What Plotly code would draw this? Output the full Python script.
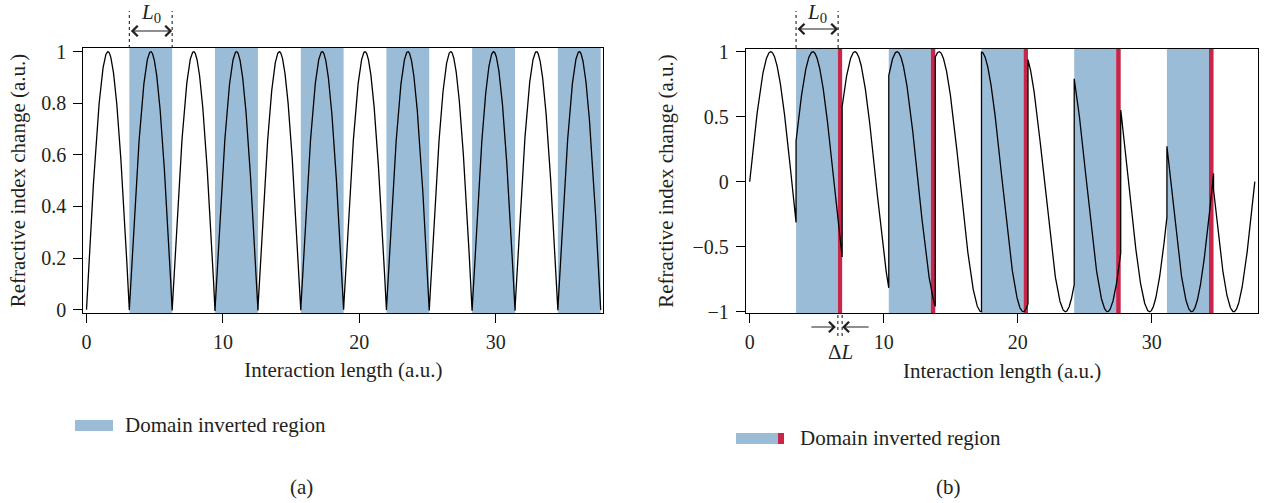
import numpy as np
import plotly.graph_objects as go

# ---- data -------------------------------------------------------------
L0 = 3.14          # coherence length
DELTA_L = 0.33     # period error of the poled grating in panel (b)
X_END = 37.70      # total interaction length

# panel (a): ideal quasi-phase-matching, inverted domains
inv_start_a = [3.14, 9.42, 15.71, 21.99, 28.27, 34.56]
inv_end_a = [6.28, 12.57, 18.85, 25.13, 31.42, 37.70]

# panel (b): inverted domains of length L0 + ΔL (blue part L0, red part ΔL)
inv_start_b = [3.46, 10.38, 17.30, 24.22, 31.14]
red_start_b = [6.58, 13.52, 20.44, 27.35, 34.28]
inv_end_b = [6.90, 13.85, 20.77, 27.69, 34.62]

x_ticks = [0, 10, 20, 30]
y_ticks_a = [0, 0.2, 0.4, 0.6, 0.8, 1]
y_ticks_b = [-1, -0.5, 0, 0.5, 1]
y_ticktext_b = ["\u22121", "\u22120.5", "0", "0.5", "1"]

BLUE = "#9bbcd7"
RED = "#c8254b"
INK = "#231f20"
FONT = "Liberation Serif"
TXT = 21   # titles, legend, annotations
TICK = 20  # tick labels


def domain_curve(starts, ends, n=4000):
    """Refractive index change: sin of the phase, sign flipped in inverted domains."""
    edges = sorted(set([0.0] + list(starts) + list(ends) + [X_END]))
    xs, ys = [], []
    for a, b in zip(edges[:-1], edges[1:]):
        mid = 0.5 * (a + b)
        sign = -1.0 if any(s <= mid <= e for s, e in zip(starts, ends)) else 1.0
        seg = np.linspace(a, b, max(4, int(n * (b - a) / X_END)))
        xs.extend(seg)
        ys.extend(sign * np.sin(seg))
    return np.array(xs), np.array(ys)


xa, ya = domain_curve(inv_start_a, inv_end_a)
xb, yb = domain_curve(inv_start_b, inv_end_b)

fig = go.Figure()
fig.add_trace(go.Scatter(x=xa, y=ya, mode="lines", line=dict(color="black", width=1.3),
                         xaxis="x", yaxis="y", showlegend=False, hoverinfo="skip"))
fig.add_trace(go.Scatter(x=xb, y=yb, mode="lines", line=dict(color="black", width=1.3),
                         xaxis="x2", yaxis="y2", showlegend=False, hoverinfo="skip"))

shapes = []
# inverted-domain bands
for s, e in zip(inv_start_a, inv_end_a):
    shapes.append(dict(type="rect", xref="x", yref="y domain", x0=s, x1=e, y0=0, y1=1,
                       fillcolor=BLUE, line=dict(width=0), layer="below"))
for s, r, e in zip(inv_start_b, red_start_b, inv_end_b):
    shapes.append(dict(type="rect", xref="x2", yref="y2 domain", x0=s, x1=r, y0=0, y1=1,
                       fillcolor=BLUE, line=dict(width=0), layer="below"))
    shapes.append(dict(type="rect", xref="x2", yref="y2 domain", x0=r, x1=e, y0=0, y1=1,
                       fillcolor=RED, line=dict(width=0), layer="below"))

H = 503.0
W = 1266.0

# L0 markers above both panels
dot = dict(color=INK, width=1.1, dash="dot")
for xr, x0 in (("x", inv_start_a[0]), ("x2", inv_start_b[0])):
    for xv in (x0, x0 + L0):
        shapes.append(dict(type="line", xref=xr, yref="paper", x0=xv, x1=xv,
                           y0=(H - 48) / H, y1=(H - 11) / H, line=dot))

# ΔL markers under panel (b)
for xv in (red_start_b[0], inv_end_b[0]):
    shapes.append(dict(type="line", xref="x2", yref="paper", x0=xv, x1=xv,
                       y0=(H - 336) / H, y1=(H - 315) / H, line=dot))

# legend swatches
shapes.append(dict(type="rect", xref="paper", yref="paper", x0=75 / W, x1=113 / W,
                   y0=(H - 431) / H, y1=(H - 420) / H, fillcolor=BLUE, line=dict(width=0)))
shapes.append(dict(type="rect", xref="paper", yref="paper", x0=736 / W, x1=778 / W,
                   y0=(H - 444) / H, y1=(H - 433) / H, fillcolor=BLUE, line=dict(width=0)))
shapes.append(dict(type="rect", xref="paper", yref="paper", x0=778 / W, x1=784 / W,
                   y0=(H - 444) / H, y1=(H - 433) / H, fillcolor=RED, line=dict(width=0)))

annotations = []
arrow = dict(showarrow=True, arrowhead=4, arrowsize=1.7, arrowwidth=1.2, arrowcolor=INK, text="")
for xr, x0, ypix in (("x", inv_start_a[0], 31), ("x2", inv_start_b[0], 29)):
    annotations.append(dict(xref=xr, yref="paper", x=x0 + L0, y=(H - ypix) / H, axref=xr,
                            ayref="pixel", ax=x0, ay=0, arrowside="end+start", **arrow))
    annotations.append(dict(xref=xr, yref="paper", x=x0 + L0 / 2, y=(H - 13) / H,
                            text="<i>L</i><sub>0</sub>", showarrow=False,
                            font=dict(family=FONT, size=TXT, color=INK), yanchor="middle"))

annotations.append(dict(xref="x2", yref="paper", x=red_start_b[0], y=(H - 327) / H, ax=-28,
                        ay=0, standoff=2, **arrow))
annotations.append(dict(xref="x2", yref="paper", x=inv_end_b[0], y=(H - 327) / H, ax=28,
                        ay=0, standoff=0, **arrow))
annotations.append(dict(xref="x2", yref="paper", x=(red_start_b[0] + inv_end_b[0]) / 2,
                        y=(H - 352) / H, yanchor="middle", text="\u0394<i>L</i>",
                        showarrow=False, font=dict(family=FONT, size=TXT, color=INK)))

# legend texts and panel labels
for xpix, ypix in ((123, 425), (798, 438)):
    annotations.append(dict(xref="paper", yref="paper", x=xpix / W, y=(H - ypix) / H,
                            xanchor="left", yanchor="middle", showarrow=False,
                            text="Domain inverted region",
                            font=dict(family=FONT, size=TXT, color=INK)))
for xpix, lbl in ((301, "(a)"), (948, "(b)")):
    annotations.append(dict(xref="paper", yref="paper", x=xpix / W, y=(H - 487) / H,
                            xanchor="center", yanchor="middle", showarrow=False, text=lbl,
                            font=dict(family=FONT, size=TXT, color=INK)))

axis_common = dict(showline=True, mirror=True, linecolor="black", linewidth=1.3,
                   ticks="outside", ticklen=9, tickwidth=1.2, tickcolor="black",
                   showgrid=False, zeroline=False, automargin=False,
                   tickfont=dict(family=FONT, size=TICK, color=INK))
title_font = dict(family=FONT, size=TXT, color=INK)

fig.update_layout(
    width=1266, height=503,
    margin=dict(l=0, r=0, t=0, b=0),
    paper_bgcolor="white", plot_bgcolor="white",
    xaxis=dict(domain=[83.3 / W, 603.3 / W], range=[-0.235, 37.89], tickvals=x_ticks,
               anchor="y", ticklabelstandoff=2,
               title=dict(text="Interaction length (a.u.)", standoff=10, font=title_font),
               **axis_common),
    yaxis=dict(domain=[(H - 313) / H, (H - 48) / H], range=[-0.013, 1.014], tickvals=y_ticks_a,
               anchor="x", ticklabelstandoff=3,
               title=dict(text="Refractive index change (a.u.)", standoff=9, font=title_font),
               **axis_common),
    xaxis2=dict(domain=[746 / W, 1258.3 / W], range=[-0.276, 37.96], tickvals=x_ticks,
                anchor="y2", ticklabelstandoff=2,
                title=dict(text="Interaction length (a.u.)", standoff=10, font=title_font),
                **axis_common),
    yaxis2=dict(domain=[(H - 313.3) / H, (H - 48.7) / H], range=[-1.012, 1.023],
                tickvals=y_ticks_b, ticktext=y_ticktext_b, anchor="x2", ticklabelstandoff=3,
                title=dict(text="Refractive index change (a.u.)", standoff=13, font=title_font),
                **axis_common),
    shapes=shapes,
    annotations=annotations,
)

fig.write_html("out.html")
